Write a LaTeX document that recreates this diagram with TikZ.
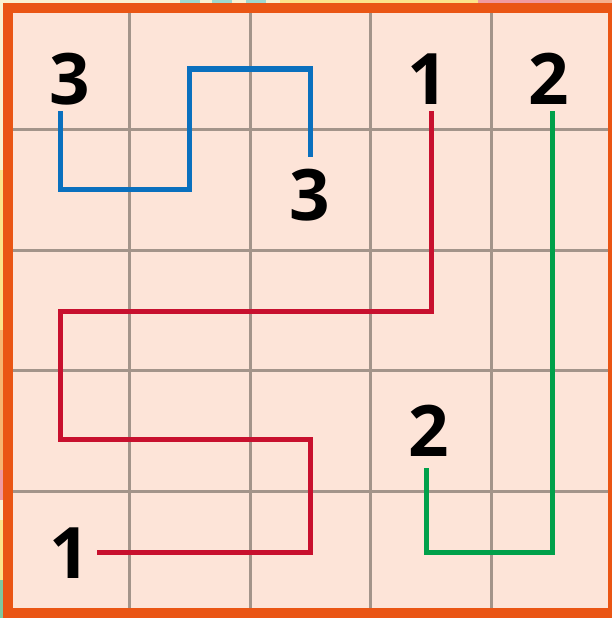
\documentclass[tikz,border=0pt]{standalone}
\usepackage{fontspec}
\setmainfont{Open Sans}
\usepackage{xcolor}
\usepackage{tikz}

\definecolor{cellbg}{HTML}{FDE4D8}
\definecolor{gridgray}{HTML}{A3948A}
\definecolor{frameorange}{HTML}{EA5514}
\definecolor{pathblue}{HTML}{0A70BE}
\definecolor{pathred}{HTML}{C8102E}
\definecolor{pathgreen}{HTML}{00A04A}
\definecolor{edgecream}{HTML}{FAF1D2}
\definecolor{edgeteal}{HTML}{9ED8D0}
\definecolor{edgeyellow}{HTML}{FCE38A}
\definecolor{edgepink}{HTML}{F09AA0}
\definecolor{edgesalmon}{HTML}{F5B08E}
\definecolor{edgeorange}{HTML}{F6B472}
\definecolor{edgegreen}{HTML}{7EC8A0}

\begin{document}
\begin{tikzpicture}[
  x=1pt, y=-1pt,
  num/.style={font=\fontsize{71}{71}\selectfont\bfseries, anchor=base, inner sep=0pt},
  gridline/.style={draw=gridgray, line width=3pt},
  route/.style={line width=5pt, line join=miter, line cap=butt},
  strip/.style={draw=none},
]
\useasboundingbox (0,0) rectangle (612,618);
\clip (0,0) rectangle (612,618);
% edge strips of the page behind
\fill[edgecream] (0,0) rectangle (612,618);
\fill[edgeteal] (180,0) rectangle (200,5);
\fill[edgeteal] (212,0) rectangle (232,5);
\fill[edgeteal] (246,0) rectangle (266,5);
\fill[edgeyellow] (280,0) rectangle (478,5);
\fill[edgepink] (478,0) rectangle (560,5);
\fill[edgesalmon] (560,0) rectangle (612,5);
\fill[edgeyellow] (0,170) rectangle (4,330);
\fill[edgeorange] (0,330) rectangle (4,470);
\fill[edgepink] (0,470) rectangle (4,500);
\fill[edgeyellow] (0,520) rectangle (4,580);
\fill[edgegreen] (0,580) rectangle (4,618);
% board
\fill[cellbg] (8.5,8.5) rectangle (612.5,612.5);
\draw[gridline] (129.3,8.5) -- (129.3,612.5);
\draw[gridline] (250.1,8.5) -- (250.1,612.5);
\draw[gridline] (370.9,8.5) -- (370.9,612.5);
\draw[gridline] (491.7,8.5) -- (491.7,612.5);
\draw[gridline] (8.5,129.3) -- (612.5,129.3);
\draw[gridline] (8.5,250.1) -- (612.5,250.1);
\draw[gridline] (8.5,370.9) -- (612.5,370.9);
\draw[gridline] (8.5,491.7) -- (612.5,491.7);
\draw[frameorange, line width=10pt] (8,8.5) rectangle (612.8,612.5);
% numbers
\node[num] (threeA) at (70,104) {3};
\node[num] (threeB) at (310,220) {3};
\node[num] (oneA) at (428,104) {1};
\node[num] (oneB) at (70,578) {1};
\node[num] (twoA) at (549,104) {2};
\node[num] (twoB) at (428.5,456.5) {2};
% route ends
\coordinate (blueS) at (60.5,111);
\coordinate (blueE) at (310.5,156.5);
\coordinate (redS) at (97,552);
\coordinate (redE) at (431.5,111);
\coordinate (greenS) at (426,468);
\coordinate (greenE) at (552,111);
% routes
\draw[route, pathblue] (blueS) -- (60.5,189) -- (189.5,189) -- (189.5,69) -- (310.5,69) -- (blueE);
\draw[route, pathred] (redS) -- (310,552) -- (310,439) -- (60.5,439) -- (60.5,311) -- (431.5,311) -- (redE);
\draw[route, pathgreen] (greenS) -- (426,552) -- (552,552) -- (greenE);
\end{tikzpicture}
\end{document}
